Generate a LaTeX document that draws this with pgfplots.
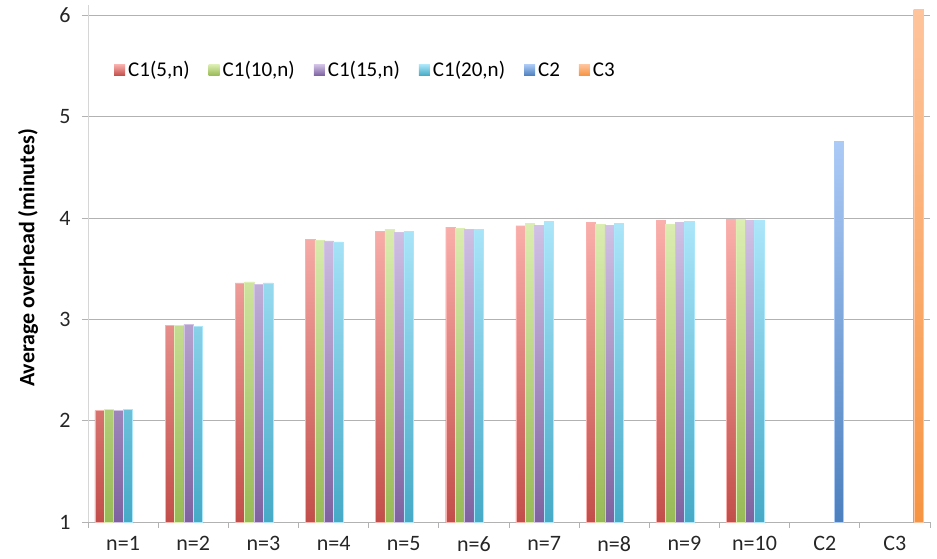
\documentclass[border=0pt]{standalone}
\usepackage{pgfplots}
\usepackage{pgfplotstable}
\pgfplotsset{compat=1.18}
\usepackage{fontspec}
\setmainfont{Carlito}
\definecolor{rtop}{RGB}{250,176,172}
\definecolor{rbot}{RGB}{194,78,74}
\definecolor{gtop}{RGB}{220,238,178}
\definecolor{gbot}{RGB}{152,186,86}
\definecolor{ptop}{RGB}{210,194,230}
\definecolor{pbot}{RGB}{126,98,160}
\definecolor{ctop}{RGB}{172,230,250}
\definecolor{cbot}{RGB}{70,170,198}
\definecolor{btop}{RGB}{172,202,246}
\definecolor{bbot}{RGB}{76,128,190}
\definecolor{otop}{RGB}{255,196,156}
\definecolor{obot}{RGB}{246,148,66}
\definecolor{gridgray}{RGB}{178,178,178}
\definecolor{axgray}{RGB}{214,214,214}

\pgfplotstableread{
x a b c d
0 2.10 2.11 2.10 2.11
1 2.94 2.94 2.95 2.93
2 3.36 3.37 3.345 3.36
3 3.79 3.78 3.775 3.765
4 3.87 3.89 3.86 3.87
5 3.91 3.90 3.89 3.89
6 3.925 3.95 3.93 3.965
7 3.96 3.94 3.93 3.95
8 3.98 3.94 3.96 3.97
9 3.99 3.99 3.98 3.98
}\groupdata
\pgfplotstableread{
x v
10 4.76
}\ctwo
\pgfplotstableread{
x v
11 6.06
}\cthree

\begin{document}
\begin{tikzpicture}
\useasboundingbox (-88pt,-36pt) rectangle (849pt,522pt);
\begin{axis}[
  at={(0pt,0pt)}, anchor=south west,
  scale only axis, width=842pt, height=516.6pt,
  xmin=-0.5, xmax=11.5, ymin=0, ymax=5.1,
  ybar=0pt, bar width=0.134,
  axis x line*=bottom, axis y line*=left,
  x axis line style={-, draw=gridgray, line width=0.8pt},
  y axis line style={-, draw=axgray, line width=0.8pt},
  tick align=outside,
  major tick length=6pt, minor tick length=6pt,
  ytick={0,1,2,3,4,5}, yticklabels={1,2,3,4,5,6},
  xtick={0,...,11},
  xticklabels={n=1,n=2,n=3,n=4,n=5,n=6,n=7,n=8,n=9,n=10,C2,C3},
  minor xtick={-0.5,0.5,...,11.5},
  major x tick style={draw=none},
  minor x tick style={draw=gridgray, line width=0.8pt},
  major y tick style={draw=gridgray, line width=0.8pt},
  ymajorgrids, major grid style={draw=gridgray, line width=0.8pt},
  tick label style={font=\fontsize{22}{26}\selectfont, text=black!85},
  xticklabel style={inner ysep=0pt, yshift=-8.5pt},
  yticklabel style={xshift=-8pt},
  ylabel={Average overhead (minutes)},
  ylabel style={font=\fontsize{22}{26}\selectfont\bfseries, at={(axis description cs:-0.0713,0.511)}, anchor=center, rotate=0},
  legend columns=6,
  legend style={draw=none, fill=none, at={(axis description cs:0.0309,0.875)}, anchor=west, inner sep=0pt,
    font=\fontsize{21}{25}\selectfont, nodes={inner xsep=3pt},
    /tikz/every even column/.append style={column sep=16pt}},
  legend image code/.code={\path[#1, draw=none] (0pt,-5.5pt) rectangle (11pt,5.5pt);},
  every axis plot/.append style={line width=0.4pt},
]
\addplot[draw=rtop, top color=rtop, bottom color=rbot] table[x=x, y expr=\thisrow{a}-1]{\groupdata};
\addplot[draw=gtop, top color=gtop, bottom color=gbot] table[x=x, y expr=\thisrow{b}-1]{\groupdata};
\addplot[draw=ptop, top color=ptop, bottom color=pbot] table[x=x, y expr=\thisrow{c}-1]{\groupdata};
\addplot[draw=ctop, top color=ctop, bottom color=cbot] table[x=x, y expr=\thisrow{d}-1]{\groupdata};
\addplot[draw=btop, top color=btop, bottom color=bbot] table[x=x, y expr=\thisrow{v}-1]{\ctwo};
\addplot[draw=otop, top color=otop, bottom color=obot] table[x=x, y expr=\thisrow{v}-1]{\cthree};
\legend{{C1(5,n)},{C1(10,n)},{C1(15,n)},{C1(20,n)},{C2},{C3}}
\end{axis}
\end{tikzpicture}
\end{document}
